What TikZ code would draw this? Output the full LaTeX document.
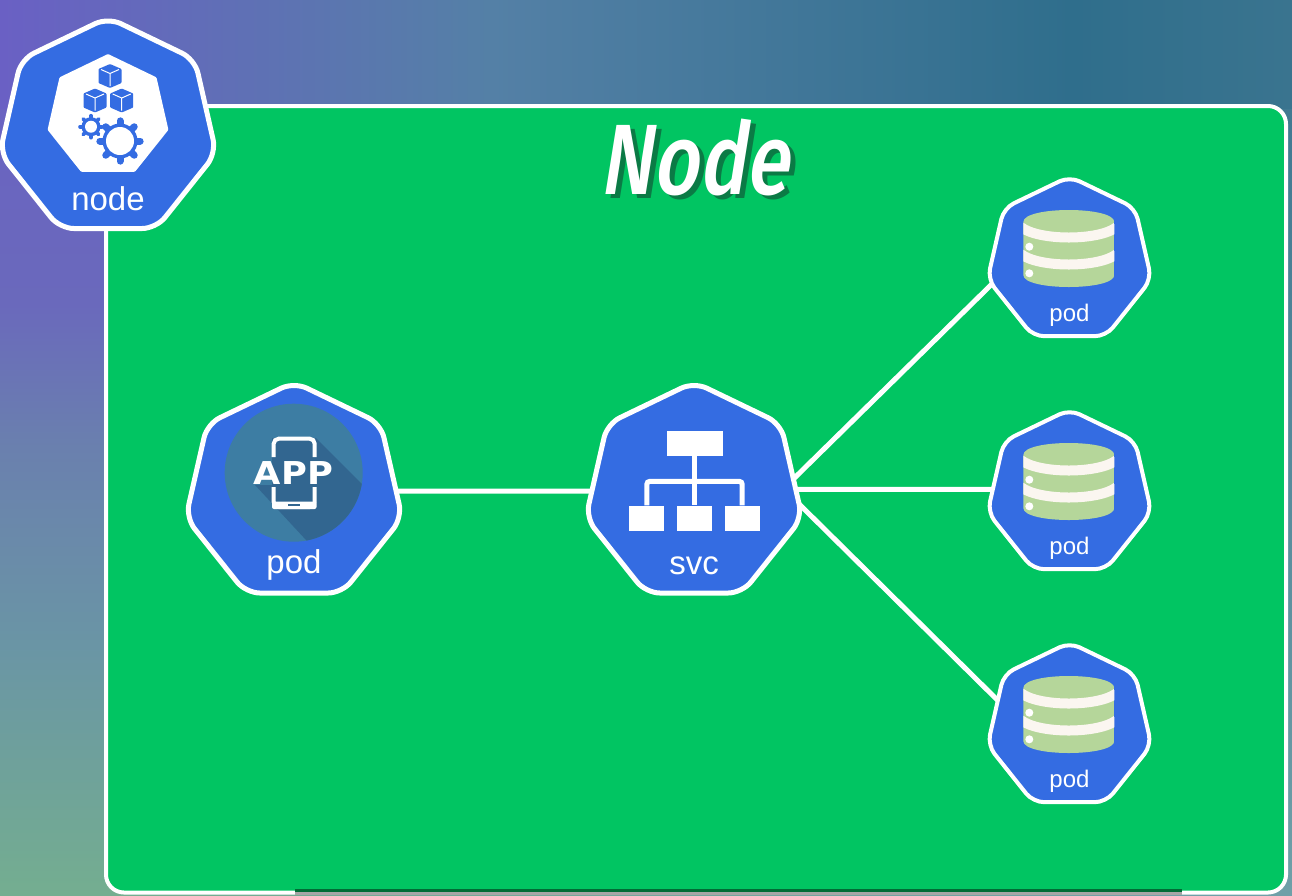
\documentclass[tikz,border=0pt]{standalone}
\usepackage{fontspec}
\setmainfont{Liberation Sans}
\newfontfamily\titlefont[FakeStretch=0.79,FakeSlant=0.16]{Fira Sans Medium}
\newfontfamily\appfont[FakeStretch=1.12]{DejaVu Sans Bold}
\usetikzlibrary{shapes.geometric}
\definecolor{kubeblue}{HTML}{346CE2}
\definecolor{nodegreen}{HTML}{01C562}
\definecolor{titleshade}{HTML}{0B7A45}
\definecolor{appdisc}{HTML}{3D7DA3}
\definecolor{appshade}{HTML}{326690}
\definecolor{dbgreen}{HTML}{B5D69A}
\definecolor{dbband}{HTML}{FBF6F0}
\definecolor{bgpurple}{HTML}{6A60C4}
\definecolor{bgmid}{HTML}{5480A6}
\definecolor{bgteal}{HTML}{2F6E8C}
\definecolor{bgright}{HTML}{3A748F}
\definecolor{bglilac}{HTML}{6A69BC}
\definecolor{bgslate}{HTML}{6A80AE}
\definecolor{bgdusk}{HTML}{6A95A5}
\definecolor{bgsage}{HTML}{74AE90}
\definecolor{bgcorner}{HTML}{6FA0A8}
\pgfdeclarehorizontalshading{topstrip}{100bp}{color(0bp)=(bgpurple);
  color(25bp)=(bgpurple);color(44bp)=(bgmid);
  color(66.5bp)=(bgteal);color(75bp)=(bgright);color(100bp)=(bgright)}
\pgfdeclareverticalshading{leftstrip}{100bp}{color(0bp)=(bgsage);
  color(25bp)=(bgsage);color(39bp)=(bgdusk);color(50bp)=(bgslate);color(58bp)=(bglilac);
  color(75bp)=(bgpurple);color(100bp)=(bgpurple)}
\tikzset{
  hepta/.style={regular polygon,regular polygon sides=7,draw=white,fill=kubeblue,line width=5pt,inner sep=0pt,outer sep=0pt,rounded corners=14pt},
  bighepta/.style={hepta,minimum size=222pt},
  smallhepta/.style={hepta,line width=4pt,rounded corners=11pt,minimum size=168pt},
  biglabel/.style={text=white,font=\fontsize{33}{33}\selectfont,anchor=base,inner sep=0pt},
  smalllabel/.style={text=white,font=\fontsize{24}{24}\selectfont,anchor=base,inner sep=0pt},
  titletext/.style={font=\titlefont\fontsize{100}{100}\selectfont,anchor=base,inner sep=0pt},
  link/.style={draw=white,line width=5pt},
  orgbox/.style={fill=white,inner sep=0pt,minimum height=25pt},
  orgline/.style={draw=white,line width=5pt,rounded corners=3pt},
  cubeicon/.pic={
    \fill[kubeblue,rounded corners=.8pt] (0,-12) -- (11.5,-7) -- (11.5,7) -- (0,12) -- (-11.5,7) -- (-11.5,-7) -- cycle;
    \draw[white,line width=1pt] (-9,-6.5) -- (0,-2.5) -- (9,-6.5) (0,-2.5) -- (0,10);
  },
  pics/gearicon/.style n args={2}{code={
    \foreach \a in {0,45,...,315}
      \draw[kubeblue,line width=#1*.4pt,line cap=round] (\a:#1*.8) -- (\a:#1*1.15);
    \fill[kubeblue] (0,0) circle (#1);
    \fill[white] (0,0) circle (#2);
  }},
  dbicon/.pic={
    \begin{scope}
      \clip (-45.5,-27) .. controls (-45.5,-43) and (45.5,-43) .. (45.5,-27)
        -- (45.5,26) .. controls (45.5,42) and (-45.5,42) .. (-45.5,26) -- cycle;
      \fill[dbgreen] (-46,-45) rectangle (46,45);
      \draw[dbband,line width=10pt] (-48,-22) .. controls (-30,-8) and (30,-8) .. (48,-22);
      \draw[dbband,line width=10pt] (-48,5) .. controls (-30,19) and (30,19) .. (48,5);
    \end{scope}
    \fill[white] (-39.5,-2.3) circle (4) (-39.5,24.3) circle (4);
  }
}
\begin{document}
\begin{tikzpicture}[x=1pt,y=-1pt]
  \useasboundingbox (0,0) rectangle (1292,895);
  \shade[top color=bgright,bottom color=bgcorner] (1200,0) rectangle (1292,895);
  \shade[left color=bgsage,right color=bgcorner] (100,870) rectangle (1210,895);
  \shade[shading=leftstrip] (0,0) rectangle (110,895);
  \shade[shading=topstrip] (0,0) rectangle (1292,108);
  \fill[nodegreen,draw=white,line width=4pt,rounded corners=18pt] (106,106) rectangle (1286,892.5);
  \fill[black!45!nodegreen] (295,889) rectangle (1182,892);
  \fill[gray!70] (295,892) rectangle (1182,895);

  \path (699,198) node[titletext,text=titleshade] (titleshadow) {Node};
  \path (694,194) node[titletext,text=white] (title) {Node};

  \path (108,128.5) node[bighepta] (kubenode) {};
  \path (108,116) node[regular polygon,regular polygon sides=7,fill=white,inner sep=0pt,minimum size=124pt,rounded corners=1pt] (nodeface) {};
  \path (110,76) pic {cubeicon};
  \path (95,100.5) pic {cubeicon};
  \path (121.7,100.5) pic {cubeicon};
  \path (91,126.7) pic {gearicon={9.5}{6}};
  \fill[white] (120,141) circle (21);
  \path (120,141) pic {gearicon={17.5}{14}};
  \path (108,210) node[biglabel] (nodetext) {node};

  \path (294,493) node[bighepta] (apppod) {};
  \fill[appdisc] (293.7,472.7) circle (69);
  \begin{scope}
    \clip (293.7,472.7) circle (69);
    \fill[appshade] (272,438) -- (316,438) -- (400,522) -- (345,582) -- (255,485) -- (272,485) -- cycle;
  \end{scope}
  \draw[white,line width=4pt,rounded corners=5pt] (273.7,457) -- (273.7,438.7) -- (314.7,438.7) -- (314.7,457);
  \draw[white,line width=4pt,rounded corners=5pt] (273.7,487) -- (273.7,507) -- (314.7,507) -- (314.7,487);
  \fill[white,rounded corners=2pt] (272,501.5) rectangle (316.5,509);
  \fill[appshade] (287.7,503.8) rectangle (299.7,506.3);
  \path (293.5,473.5) node[text=white,font=\appfont\fontsize{31.5}{31.5}\selectfont,inner sep=0pt] (applogo) {APP};
  \path (294,573) node[biglabel] (apptext) {pod};

  \path (694,493) node[bighepta] (svc) {};
  \path (694.7,443) node[orgbox,minimum width=56pt] (orgroot) {};
  \path (646.8,518) node[orgbox,minimum width=35pt] (orgleft) {};
  \path (694.7,518) node[orgbox,minimum width=35pt] (orgmid) {};
  \path (742.2,518) node[orgbox,minimum width=35pt] (orgright) {};
  \draw[orgline] (orgroot.south) -- (orgmid.north);
  \draw[orgline] (orgleft.north) -- ++(0,-24) -- ++(47.9,0);
  \draw[orgline] (orgright.north) -- ++(0,-24) -- ++(-47.5,0);
  \path (694,574) node[biglabel] (svctext) {svc};

  \path (1069.5,260.5) node[smallhepta] (dba) {};
  \path node[smallhepta,below of=dba,node distance=233pt] (dbb) {};
  \path node[smallhepta,below of=dbb,node distance=233pt] (dbc) {};
  \path (dba.center)+(-.7,-11.5) pic {dbicon};
  \path (dbb.center)+(-.7,-11.5) pic {dbicon};
  \path (dbc.center)+(-.7,-11.5) pic {dbicon};
  \path (dba.center)+(0,61) node[smalllabel] (dbatext) {pod};
  \path (dbb.center)+(0,61) node[smalllabel] (dbbtext) {pod};
  \path (dbc.center)+(0,61) node[smalllabel] (dbctext) {pod};

  \draw[link] (apppod.1) -- (svc.179);
  \draw[link] (svc.8.5) -- (dba.197);
  \draw[link] (svc.2) -- (dbb.177);
  \draw[link] (svc.-6.5) -- (dbc.160);
\end{tikzpicture}
\end{document}
